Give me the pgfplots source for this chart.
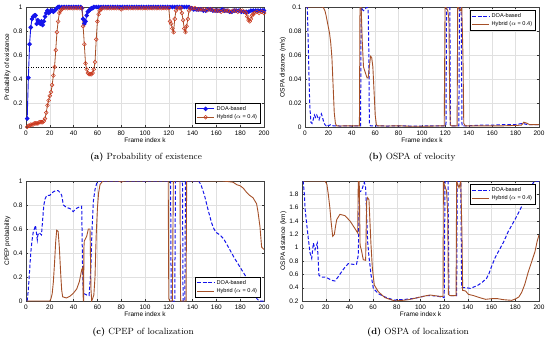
\documentclass[border=0pt]{standalone}
\usepackage{pgfplots}
\pgfplotsset{compat=1.18}
\usepackage{fontspec}
\setsansfont{Liberation Sans}
\definecolor{doablue}{RGB}{20,20,235}
\definecolor{hybbrown}{RGB}{165,80,40}
\definecolor{hybmark}{RGB}{205,55,30}
\pgfplotsset{
  panel/.style={
    scale only axis, width=238pt, height=120pt,
    font=\sffamily\fontsize{6.5}{7.5}\selectfont,
    /pgf/number format/assume math mode=true,
    xmin=0, xmax=200, xtick={0,20,...,200},
    grid=major, major grid style={black!12, line width=0.3pt},
    tick style={black!80, line width=0.3pt}, major tick length=2pt,
    axis line style={line width=0.4pt, black!75},
    xlabel={Frame index k},
    xlabel style={yshift=4pt}, ylabel style={yshift=-4pt},
    legend style={font=\sffamily\fontsize{5.6}{6.5}\selectfont, draw=black, line width=0.3pt, inner sep=1.2pt, row sep=-1.2pt},
    legend cell align=left,
    yticklabel style={/pgf/number format/fixed, /pgf/number format/precision=2},
    scaled y ticks=false,
  },
  doa/.style={doablue, line width=1pt, dash pattern=on 3.5pt off 2pt},
  hyb/.style={hybbrown, line width=0.9pt, solid},
}
\begin{document}
\begin{tikzpicture}
\useasboundingbox (0,0) rectangle (550pt,-340pt);
% (a)
\begin{axis}[panel, at={(26pt,-7pt)}, anchor=north west, ymin=0, ymax=1, ytick={0,0.2,...,1},
  ylabel={Probability of existence}, legend style={at={(0.985,0.03)}, anchor=south east}]
\addplot[doablue, line width=0.9pt, mark=*, mark size=1.8pt, mark options={fill=doablue}] coordinates {
(1,0.07)(2,0.41)(3,0.69)(4,0.83)(5,0.90)(6,0.92)(7,0.93)(8,0.93)(9,0.86)(10,0.89)(11,0.87)(12,0.86)(13,0.88)(14,0.85)(15,0.88)(16,0.92)(17,0.95)(18,0.97)(19,0.95)(20,0.96)(21,0.97)(22,0.97)(23,0.96)(24,0.97)(25,0.98)(26,0.99)(27,1)(28,1)(30,1)(32,1)(34,1)(36,1)(38,1)(40,1)(42,1)(44,1)(46,1)(47,0.99)(48,0.90)(49,0.86)(50,0.88)(51,0.93)(52,0.96)(53,0.97)(54,0.98)(55,0.99)(56,0.99)(57,1)(59,1)(61,1)(63,1)(65,1)(67,1)(69,1)(71,1)(73,1)(75,1)(77,1)(79,1)(81,1)(83,1)(85,1)(87,1)(89,1)(91,1)(93,1)(95,1)(97,1)(99,1)(101,1)(103,1)(105,1)(107,1)(109,1)(111,1)(113,1)(115,1)(117,1)(119,1)(121,1)(123,1)(125,1)(127,1)(129,1)(131,1)(133,1)(135,1)(137,1)(139,0.99)(141,0.98)(143,0.98)(145,0.98)(147,0.98)(149,0.97)(151,0.97)(153,0.98)(155,0.98)(157,0.97)(159,0.97)(161,0.97)(163,0.97)(165,0.98)(167,0.97)(169,0.97)(171,0.96)(173,0.96)(175,0.97)(177,0.97)(179,0.97)(181,0.96)(183,0.96)(185,0.96)(187,0.96)(189,0.97)(191,0.97)(193,0.97)(195,0.97)(197,0.97)(199,0.97)(200,0.97)};
\addlegendentry{DOA-based}
\addplot[hybbrown, line width=0.8pt, mark=o, mark size=1.9pt, mark options={draw=hybmark, fill=hybmark!15, line width=0.5pt}] coordinates {
(1,0)(2,0.01)(3,0.01)(4,0.02)(5,0.02)(6,0.02)(7,0.03)(8,0.03)(9,0.03)(10,0.03)(11,0.04)(12,0.04)(13,0.04)(14,0.04)(15,0.05)(16,0.07)(17,0.12)(18,0.18)(19,0.22)(20,0.26)(21,0.29)(22,0.35)(23,0.43)(24,0.50)(25,0.64)(26,0.79)(27,0.88)(28,0.95)(29,0.97)(30,0.98)(31,0.99)(33,0.99)(35,0.99)(37,0.99)(39,0.99)(41,0.99)(43,0.99)(45,0.99)(47,0.99)(48,0.84)(49,0.69)(50,0.53)(51,0.48)(52,0.45)(53,0.44)(54,0.44)(55,0.44)(56,0.45)(57,0.48)(58,0.54)(59,0.73)(60,0.88)(61,0.94)(62,0.97)(63,0.98)(64,0.99)(66,0.99)(68,0.99)(70,0.99)(72,0.99)(74,0.99)(76,0.99)(78,0.99)(80,0.98)(82,0.99)(84,0.99)(86,0.99)(88,0.99)(90,0.99)(92,0.99)(94,0.99)(96,0.99)(98,0.99)(100,0.99)(102,0.99)(104,0.99)(106,0.99)(108,0.99)(110,0.99)(112,0.99)(114,0.99)(116,0.99)(118,0.99)(120,0.99)(121,0.88)(122,0.86)(123,0.82)(124,0.79)(125,0.90)(126,0.97)(127,0.99)(129,0.99)(130,0.99)(131,0.95)(132,0.89)(133,0.82)(134,0.79)(135,0.84)(136,0.90)(137,0.97)(138,0.99)(140,0.99)(142,0.99)(144,0.98)(146,0.98)(148,0.98)(150,0.98)(152,0.97)(154,0.98)(156,0.98)(158,0.97)(160,0.97)(162,0.97)(164,0.96)(166,0.97)(168,0.97)(170,0.97)(172,0.96)(174,0.97)(176,0.97)(178,0.96)(180,0.97)(182,0.97)(184,0.96)(185,0.95)(186,0.92)(187,0.89)(188,0.88)(189,0.90)(190,0.93)(191,0.94)(192,0.95)(194,0.96)(196,0.95)(198,0.96)(200,0.95)};
\addlegendentry{Hybrid ($\alpha$ = 0.4)}
\addplot[black, line width=0.5pt, dotted, forget plot] coordinates {(0,0.5)(200,0.5)};
\end{axis}
% (b)
\begin{axis}[panel, at={(305pt,-7pt)}, anchor=north west, width=234pt, ymin=0, ymax=0.1, ytick={0,0.02,...,0.1},
  ylabel={OSPA distance (m/s)}, legend style={at={(0.985,0.975)}, anchor=north east}]
\addplot[doa] coordinates {
(1,0.1)(2,0.1)(3,0.06)(4,0.02)(5,0.004)(6,0.003)(7,0.006)(8,0.010)(9,0.008)(10,0.010)(11,0.008)(12,0.006)(13,0.009)(14,0.011)(15,0.008)(16,0.004)(17,0.002)(18,0.001)(19,0.002)(20,0.001)(22,0.002)(24,0.001)(26,0.001)(30,0.0008)(35,0.001)(40,0.0008)(45,0.001)(47.5,0.001)(48,0.1)(49,0.098)(50,0.097)(51,0.098)(52,0.099)(53,0.1)(54,0.098)(54.6,0.06)(55,0.002)(56,0.001)(60,0.001)(70,0.0008)(80,0.001)(90,0.0008)(100,0.0008)(110,0.001)(120.5,0.001)(121,0.1)(123,0.1)(123.8,0.1)(124.3,0.001)(131.5,0.001)(132,0.1)(133.5,0.1)(134.2,0.001)(140,0.001)(150,0.0015)(160,0.0015)(170,0.002)(180,0.002)(186,0.003)(190,0.002)(195,0.002)(200,0.002)};
\addlegendentry{DOA-based}
\addplot[hyb] coordinates {
(1,0.1)(15,0.1)(16,0.099)(17,0.097)(18,0.093)(19,0.088)(20,0.083)(21,0.078)(22,0.07)(23,0.058)(24,0.035)(25,0.012)(26,0.003)(27,0.001)(30,0.0008)(35,0.001)(40,0.001)(46.5,0.001)(47,0.1)(48,0.1)(49,0.07)(50,0.05)(51,0.047)(52,0.044)(53,0.041)(54,0.041)(55,0.05)(56,0.059)(57,0.058)(58,0.05)(59,0.03)(60,0.01)(61,0.002)(62,0.001)(70,0.0008)(80,0.001)(90,0.0006)(100,0.0006)(110,0.0008)(119,0.001)(119.7,0.1)(120,0.1)(121,0.099)(122,0.097)(123,0.09)(123.7,0.02)(124.2,0.002)(125,0.001)(130,0.001)(130.5,0.1)(131,0.1)(132,0.098)(133,0.097)(134,0.1)(135,0.06)(135.7,0.003)(137,0.001)(150,0.001)(170,0.001)(185,0.0015)(187,0.004)(190,0.003)(192,0.002)(195,0.002)(200,0.002)};
\addlegendentry{Hybrid ($\alpha$ = 0.4)}
\end{axis}
% (c)
\begin{axis}[panel, at={(26pt,-181pt)}, anchor=north west, ymin=0, ymax=1, ytick={0,0.2,...,1},
  ylabel={CPEP probability}, legend style={at={(0.985,0.03)}, anchor=south east}]
\addplot[doa] coordinates {
(1,0)(2,0.1)(3,0.25)(4,0.4)(5,0.5)(6,0.57)(7,0.6)(8,0.63)(9,0.55)(9.5,0.51)(10,0.55)(11,0.57)(12,0.56)(13,0.55)(14,0.68)(15,0.8)(16,0.85)(17.4,0.88)(20,0.88)(23,0.91)(25,0.92)(27,0.92)(29,0.9)(30,0.88)(31.4,0.8)(34,0.78)(37,0.77)(39.7,0.745)(42,0.77)(44,0.78)(46.8,0.79)(47.5,0.3)(48,0.1)(49,0.06)(51,0.05)(53,0.045)(54.3,0.22)(55.5,0.6)(56.6,0.83)(58,0.93)(59.4,0.98)(61,1)(70,1)(80,1)(100,1)(119,1)(121.5,1)(122,0)(125,0)(125.6,1)(130,1)(131.5,1)(132,0)(133.5,0)(134,1)(145,1)(147,0.97)(150,0.88)(153,0.76)(156,0.65)(158,0.6)(160,0.57)(163,0.55)(166,0.52)(170,0.45)(175,0.36)(180,0.28)(185,0.2)(190,0.1)(194,0.02)(196,0)(200,0)};
\addlegendentry{DOA-based}
\addplot[hyb] coordinates {
(1,0)(20,0)(21,0.02)(22,0.06)(23,0.16)(24,0.32)(25,0.5)(25.8,0.59)(27,0.58)(28,0.45)(29.2,0.22)(30,0.09)(30.8,0.035)(34,0.025)(37,0.04)(39.8,0.065)(42.6,0.1)(44.8,0.16)(46.8,0.26)(47.8,0.28)(48.1,0)(48.4,0)(48.7,0.45)(49,0.5)(51,0.54)(52.4,0.6)(53.8,0.6)(54.6,0.1)(55.2,0)(56,0.02)(57,0.05)(58,0.2)(59,0.55)(60,0.77)(61,0.9)(62.2,0.97)(64.5,1)(78,1)(80,0.99)(82,1)(100,1)(119.5,1)(120,0.02)(121,0)(123,0)(123.8,1)(129.4,1)(129.9,0)(134.5,0)(135,1)(150,1)(165,1)(170,0.995)(174,0.99)(177,0.97)(180,0.96)(182.6,0.94)(185,0.91)(188,0.88)(190.8,0.86)(193.8,0.81)(195,0.74)(196.6,0.62)(198,0.45)(200,0.43)};
\addlegendentry{Hybrid ($\alpha$ = 0.4)}
\end{axis}
% (d)
\begin{axis}[panel, at={(302pt,-181pt)}, anchor=north west, width=237pt, ymin=0.2, ymax=2, ytick={0.2,0.4,...,1.8},
  ylabel={OSPA distance (km)}, legend style={at={(0.985,0.975)}, anchor=north east}]
\addplot[doa] coordinates {
(1,2)(2,1.8)(2.5,1.6)(4,1.35)(5.3,1.14)(6.8,0.92)(8.2,0.84)(9.6,1.07)(11,0.97)(12.9,1.07)(14.3,0.59)(16,0.56)(19.4,0.56)(22,0.54)(25,0.51)(27.8,0.5)(30,0.55)(33.5,0.64)(36,0.7)(39,0.76)(43.3,0.75)(46,0.75)(47.5,0.89)(48.4,1.83)(50.3,1.86)(52.6,1.98)(53.7,1.9)(55.4,1.09)(56.5,0.87)(58.2,0.6)(60.2,0.39)(64.4,0.31)(70,0.26)(75,0.23)(78.5,0.21)(80,0.22)(85,0.22)(90,0.23)(95,0.24)(100,0.26)(105,0.28)(110,0.28)(115,0.27)(120,0.25)(120.7,2)(123.2,2)(124,0.3)(126,0.28)(130.5,0.28)(131,2)(134,2)(134.7,0.4)(137.6,0.4)(142,0.39)(145,0.41)(148.8,0.44)(152,0.48)(155.8,0.54)(158,0.62)(160,0.72)(163,0.85)(166,0.95)(170,1.08)(174,1.24)(180,1.43)(185.4,1.62)(190,1.78)(192.4,1.88)(195,1.97)(197,2)(200,2)};
\addlegendentry{DOA-based}
\addplot[hyb] coordinates {
(1,2)(19.4,2)(21,1.95)(22.2,1.8)(23.5,1.6)(24.5,1.4)(25.9,1.17)(27.3,1.2)(28.3,1.32)(29.3,1.42)(32,1.5)(36.3,1.48)(40.5,1.4)(44.2,1.3)(47,1.22)(47.5,2)(48.3,2)(49,1.04)(50.3,0.95)(51.7,0.82)(53.7,0.81)(54.6,1.7)(55.4,1.75)(56.5,1.72)(58.2,1.05)(59.4,0.69)(61,0.44)(64.4,0.34)(70,0.25)(75,0.22)(78.5,0.2)(85,0.21)(90,0.22)(95,0.24)(100,0.26)(105,0.28)(108,0.29)(112,0.28)(116,0.27)(119,0.27)(119.3,2)(120,1.95)(121,1.9)(122,1.85)(123,1.5)(123.5,0.3)(125,0.28)(130,0.28)(130.5,2)(131.5,1.95)(132.5,1.9)(134,2)(135,1.2)(135.6,0.36)(138,0.35)(140.4,0.3)(145,0.28)(150,0.25)(155,0.225)(160,0.235)(165,0.235)(170,0.22)(177,0.21)(180,0.23)(183,0.26)(185.4,0.33)(188,0.45)(191,0.64)(194,0.8)(196.6,0.94)(198.5,1.1)(200,1.19)};
\addlegendentry{Hybrid ($\alpha$ = 0.4)}
\end{axis}
\node[font=\fontsize{9}{10}\selectfont] at (146pt,-157pt) {\textbf{(a)} Probability of existence};
\node[font=\fontsize{9}{10}\selectfont] at (412pt,-157pt) {\textbf{(b)} OSPA of velocity};
\node[font=\fontsize{9}{10}\selectfont] at (143pt,-332pt) {\textbf{(c)} CPEP of localization};
\node[font=\fontsize{9}{10}\selectfont] at (418pt,-332pt) {\textbf{(d)} OSPA of localization};
\end{tikzpicture}
\end{document}
